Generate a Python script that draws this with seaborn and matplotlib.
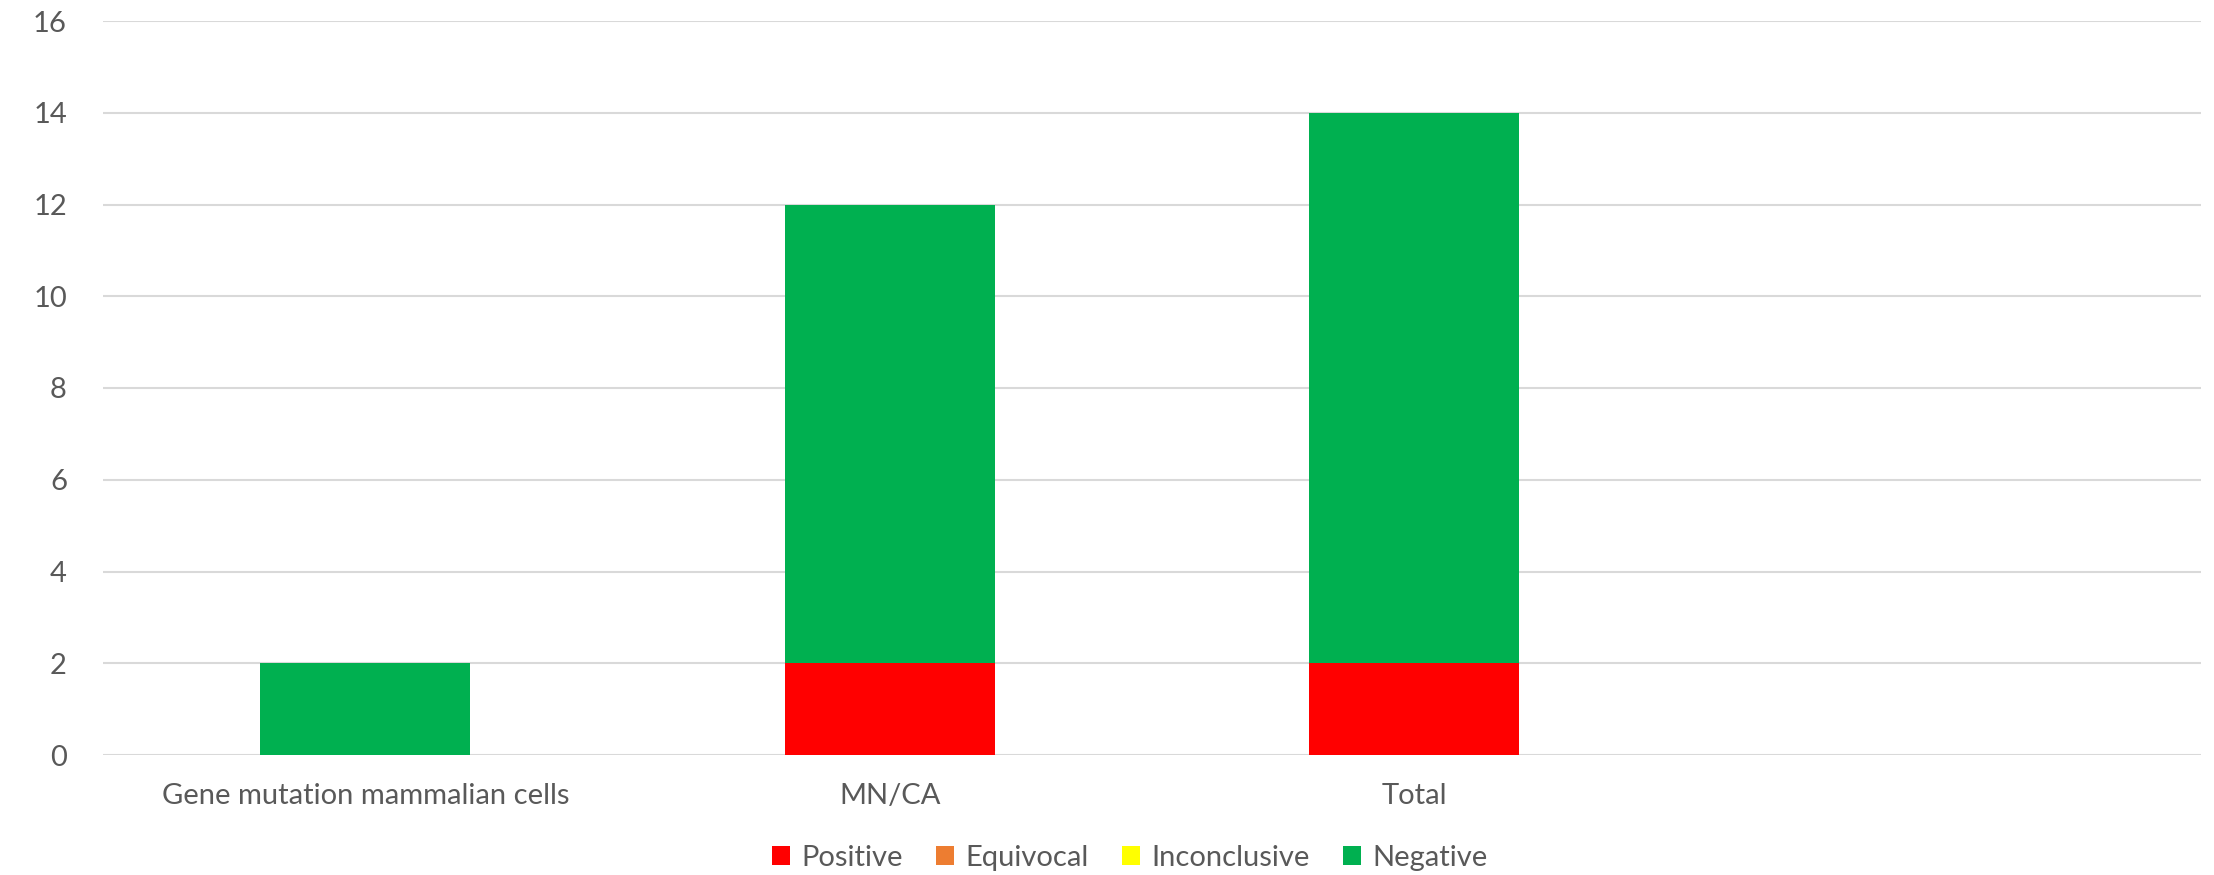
import matplotlib
matplotlib.use("Agg")
import matplotlib.pyplot as plt
from matplotlib.patches import Patch
import numpy as np
import pandas as pd
import seaborn as sns

# Test categories (last slot intentionally left empty)
categories = ["Gene mutation mammalian cells", "MN/CA", "Total", " "]
positive = [0, 2, 2, 0]
equivocal = [0, 0, 0, 0]
inconclusive = [0, 0, 0, 0]
negative = [2, 10, 12, 0]

series_names = ["Positive", "Equivocal", "Inconclusive", "Negative"]
series_values = [positive, equivocal, inconclusive, negative]
series_colors = ["#FF0000", "#ED7D31", "#FFFF00", "#00B050"]
y_ticks = [0, 2, 4, 6, 8, 10, 12, 14, 16]

sns.set_theme(style="white")
plt.rcParams["font.family"] = ["Lato", "DejaVu Sans"]
text_color = "#595959"

fig = plt.figure(figsize=(22.14, 8.75), dpi=100)
ax = fig.add_axes([103 / 2214, 1 - 755 / 875, (2201 - 103) / 2214, (755 - 21) / 875])

# Stacked bars: draw cumulative totals from the top series down
cum = np.cumsum(np.array(series_values), axis=0)
for i in range(len(series_names) - 1, -1, -1):
    df = pd.DataFrame({"category": categories, "value": cum[i]})
    sns.barplot(data=df, x="category", y="value", color=series_colors[i],
                saturation=1, width=0.4, linewidth=0, ax=ax, order=categories)

ax.set_ylim(0, 16)
ax.set_yticks(y_ticks)
ax.set_xlim(-0.5, len(categories) - 0.5)
ax.grid(axis="y", color="#D9D9D9", linewidth=1.5)
ax.set_axisbelow(True)
for s in ax.spines.values():
    s.set_visible(False)
ax.set_xlabel("")
ax.set_ylabel("")
ax.tick_params(axis="both", length=0, labelsize=21, colors=text_color)
ax.tick_params(axis="y", pad=26)
ax.tick_params(axis="x", pad=20)

handles = [Patch(facecolor=c, edgecolor="none") for c in series_colors]
leg = fig.legend(handles, series_names, loc="center", bbox_to_anchor=(1130 / 2214, 1 - 858 / 875),
                 ncol=4, frameon=False, fontsize=21, handlelength=0.6, handleheight=0.6,
                 handletextpad=0.4, columnspacing=1.15)
for t in leg.get_texts():
    t.set_color(text_color)

fig.savefig("out.png", dpi=100)
